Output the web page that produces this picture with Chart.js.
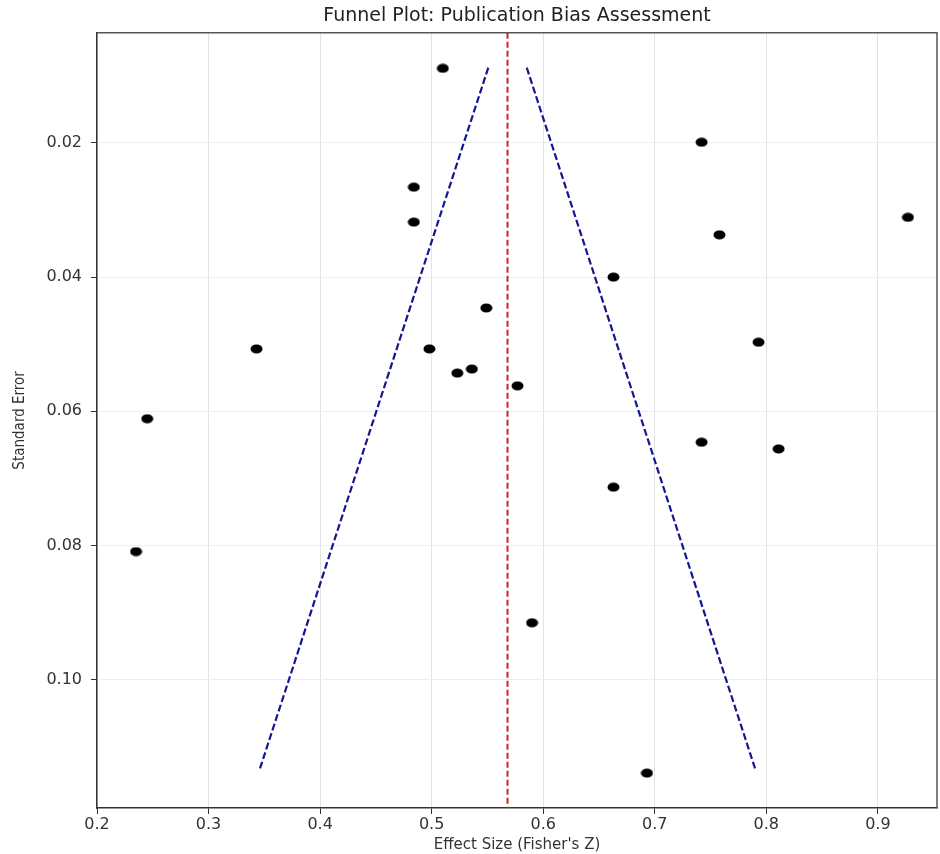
<!DOCTYPE html>
<html>
<head>
<meta charset="utf-8">
<script src="https://cdn.jsdelivr.net/npm/chart.js@4"></script>
<style>
  html, body { margin: 0; padding: 0; background: #ffffff; }
  #wrap { width: 940px; height: 854px; }
</style>
</head>
<body>
<div id="wrap"><canvas id="c" width="940" height="854"></canvas></div>
<script>
// ---- data ----
const effectSizes = [0.510, 0.742, 0.484, 0.484, 0.927, 0.758, 0.663, 0.549, 0.343, 0.498, 0.793, 0.523, 0.536, 0.577, 0.245, 0.742, 0.811, 0.663, 0.235, 0.590, 0.693];
const standardErrors = [0.0089, 0.0199, 0.0266, 0.0318, 0.0311, 0.0337, 0.0400, 0.0446, 0.0507, 0.0507, 0.0497, 0.0543, 0.0537, 0.0562, 0.0611, 0.0646, 0.0656, 0.0713, 0.0809, 0.0915, 0.1139];
const pooledEffect = 0.568;
const funnelSE = [0.0088, 0.1134];
const xTicks = [0.2, 0.3, 0.4, 0.5, 0.6, 0.7, 0.8, 0.9];
const yTicks = [0.02, 0.04, 0.06, 0.08, 0.10];
const xRange = [0.2, 0.953];
const yRange = [0.0036, 0.1191];
const titleText = 'Funnel Plot: Publication Bias Assessment';
const xTitle = "Effect Size (Fisher's Z)";
const yTitle = 'Standard Error';

// ---- derived tables ----
const studies = effectSizes.map((x, i) => ({ x: x, y: standardErrors[i] }));
const leftFunnel = funnelSE.map(se => ({ x: pooledEffect - 1.96 * se, y: se }));
const rightFunnel = funnelSE.map(se => ({ x: pooledEffect + 1.96 * se, y: se }));
const pooledLine = yRange.map(se => ({ x: pooledEffect, y: se }));

// ellipse marker
const dot = document.createElement('canvas');
dot.width = 13; dot.height = 10;
(function () {
  const g = dot.getContext('2d');
  g.fillStyle = '#000000';
  g.beginPath();
  g.ellipse(6.5, 5, 6, 4.5, 0, 0, Math.PI * 2);
  g.fill();
})();

const frame = {
  id: 'frame',
  afterDatasetsDraw(chart) {
    const a = chart.chartArea, ctx = chart.ctx;
    ctx.save();
    ctx.strokeStyle = '#555555';
    ctx.lineWidth = 1.5;
    ctx.beginPath();
    ctx.moveTo(a.left, a.top); ctx.lineTo(a.right, a.top); ctx.lineTo(a.right, a.bottom);
    ctx.stroke();
    ctx.restore();
  }
};

const tickFont = { family: 'DejaVu Sans', size: 16 };

new Chart(document.getElementById('c'), {
  type: 'scatter',
  data: {
    datasets: [
      { label: 'Lower 95% bound', data: leftFunnel, showLine: true, borderColor: '#15158f', borderWidth: 2.2, borderDash: [7, 3], pointRadius: 0, fill: false },
      { label: 'Upper 95% bound', data: rightFunnel, showLine: true, borderColor: '#15158f', borderWidth: 2.2, borderDash: [7, 3], pointRadius: 0, fill: false },
      { label: 'Pooled effect', data: pooledLine, showLine: true, borderColor: '#d42020', borderWidth: 2, borderDash: [6, 3], pointRadius: 0, fill: false },
      { label: 'Studies', data: studies, pointStyle: dot, pointRadius: 6, backgroundColor: '#000', borderColor: '#000' }
    ]
  },
  options: {
    responsive: false,
    animation: false,
    layout: { autoPadding: false, padding: { left: 0, right: 3, top: 0, bottom: 0 } },
    plugins: {
      legend: { display: false },
      tooltip: { enabled: false },
      title: {
        display: true, text: titleText, fullSize: false, color: '#222222',
        font: { family: 'DejaVu Sans', size: 19, weight: 'normal' },
        padding: { top: 5, bottom: 5 }
      }
    },
    scales: {
      x: {
        type: 'linear', min: xRange[0], max: xRange[1],
        afterBuildTicks: s => { s.ticks = xTicks.map(v => ({ value: v })); },
        afterFit: s => { s.height = 46; },
        ticks: { font: tickFont, color: '#333333', padding: 1, maxRotation: 0, callback: v => v.toFixed(1) },
        grid: { color: '#e3e3e3', lineWidth: 1, tickLength: 6, tickColor: '#333333' },
        border: { color: '#333333', width: 1.5 },
        title: { display: true, text: xTitle, color: '#333333', font: { family: 'DejaVu Sans', size: 15 }, padding: { top: 0, bottom: 0 } }
      },
      y: {
        type: 'linear', reverse: true, min: yRange[0], max: yRange[1],
        afterBuildTicks: s => { s.ticks = yTicks.map(v => ({ value: v })); },
        afterFit: s => { s.width = 97; },
        ticks: { font: tickFont, color: '#333333', padding: 9, callback: v => v.toFixed(2) },
        grid: { color: '#eeeeee', lineWidth: 1, tickLength: 6, tickColor: '#333333' },
        border: { color: '#333333', width: 1.5 },
        title: { display: true, text: yTitle, color: '#333333', font: { family: 'DejaVu Sans Condensed', size: 15 }, padding: { top: 11, bottom: 0 } }
      }
    }
  },
  plugins: [frame]
});
</script>
</body>
</html>
